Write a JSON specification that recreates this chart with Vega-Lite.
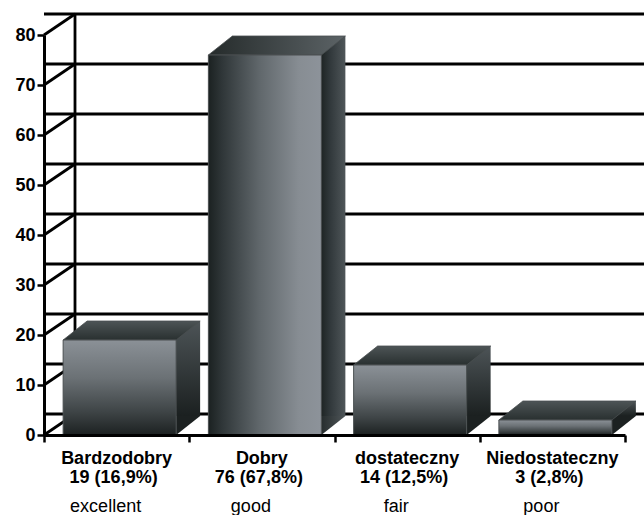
{
  "$schema": "https://vega.github.io/schema/vega-lite/v6.json",
  "width": 581,
  "height": 400,
  "autosize": {"type": "none"},
  "padding": {"left": 44, "top": 35, "right": 19, "bottom": 80},
  "background": "white",
  "config": {"view": {"stroke": null}, "font": "Liberation Sans"},
  "datasets": {
    "bars": [
      {"cat": "Bardzodobry", "count": 19, "label": "19 (16,9%)", "en": "excellent"},
      {"cat": "Dobry", "count": 76, "label": "76 (67,8%)", "en": "good"},
      {"cat": "dostateczny", "count": 14, "label": "14 (12,5%)", "en": "fair"},
      {"cat": "Niedostateczny", "count": 3, "label": "3 (2,8%)", "en": "poor"}
    ],
    "ticks": [{"t": 0}, {"t": 10}, {"t": 20}, {"t": 30}, {"t": 40}, {"t": 50}, {"t": 60}, {"t": 70}, {"t": 80}]
  },
  "layer": [
    {
      "data": {"name": "ticks"},
      "mark": {"type": "rule", "color": "black", "strokeWidth": 2.8, "xOffset": 31, "x2Offset": 31, "yOffset": -21, "y2Offset": -21},
      "encoding": {
        "y": {
          "field": "t", "type": "quantitative",
          "scale": {"domain": [0, 80], "nice": false},
          "axis": {
            "title": null, "values": [0, 10, 20, 30, 40, 50, 60, 70, 80], "grid": false,
            "domainColor": "black", "domainWidth": 3, "tickColor": "black", "tickWidth": 2.5, "tickSize": 7,
            "labelFont": "Liberation Sans", "labelFontWeight": "bold", "labelFontSize": 18, "labelColor": "black",
            "labelPadding": 2, "zindex": 1
          }
        }
      }
    },
    {
      "data": {"name": "ticks"},
      "transform": [{"filter": "datum.t === 0"}],
      "mark": {"type": "rule", "color": "black", "strokeWidth": 2.8, "xOffset": 31, "x2Offset": 31, "yOffset": -21, "y2Offset": -21},
      "encoding": {
        "x": {"value": 0},
        "y": {"datum": 80, "type": "quantitative"},
        "y2": {"datum": 0}
      }
    },
    {
      "data": {"name": "ticks"},
      "mark": {"type": "rule", "color": "black", "strokeWidth": 2.8, "x2Offset": 31, "y2Offset": -21},
      "encoding": {
        "x": {"value": 0},
        "x2": {"value": 0},
        "y": {"field": "t", "type": "quantitative"},
        "y2": {"field": "t"}
      }
    },
    {
      "data": {"name": "bars"},
      "transform": [{"filter": "datum.cat !== 'Dobry'"}],
      "mark": {"type": "bar", "width": 113, "xOffset": 27, "x2Offset": 27, "yOffset": -19, "y2Offset": -19,
        "fill": {"gradient": "linear", "x1": 0, "y1": 0, "x2": 0, "y2": 1,
          "stops": [{"offset": 0, "color": "#4d5457"}, {"offset": 1, "color": "#1b2020"}]}},
      "encoding": {
        "x": {
          "field": "cat", "type": "nominal",
          "scale": {"domain": ["Bardzodobry", "Dobry", "dostateczny", "Niedostateczny"], "paddingInner": 0, "paddingOuter": 0},
          "axis": {
            "title": null, "labels": false, "domainColor": "black", "domainWidth": 3,
            "tickColor": "black", "tickWidth": 2.5, "tickSize": 7, "tickBand": "extent", "zindex": 1
          }
        },
        "y": {"field": "count", "type": "quantitative"}
      }
    },
    {
      "data": {"name": "bars"},
      "transform": [{"filter": "datum.cat === 'Dobry'"}],
      "mark": {"type": "bar", "width": 113, "xOffset": 27, "x2Offset": 27, "yOffset": -19, "y2Offset": -19,
        "fill": {"gradient": "linear", "x1": 0, "y1": 0, "x2": 1, "y2": 0,
          "stops": [{"offset": 0, "color": "#1f2525"}, {"offset": 0.79, "color": "#1f2525"}, {"offset": 0.86, "color": "#30373a"}, {"offset": 1, "color": "#4f5659"}]}},
      "encoding": {
        "x": {"field": "cat", "type": "nominal"},
        "y": {"field": "count", "type": "quantitative"}
      }
    },
    {
      "data": {"name": "bars"},
      "transform": [{"filter": "datum.cat !== 'Dobry'"}],
      "mark": {"type": "point", "filled": true, "opacity": 1, "size": 4, "xOffset": 3, "strokeWidth": 0,
        "shape": "M56.5,0L56.5,-19L80.5,-19Z", "fill": "#1c2121"},
      "encoding": {
        "x": {"field": "cat", "type": "nominal"},
        "y": {"datum": 0, "type": "quantitative"}
      }
    },
    {
      "data": {"name": "bars"},
      "transform": [{"filter": "datum.cat === 'Dobry'"}],
      "mark": {"type": "point", "filled": true, "opacity": 1, "size": 4, "xOffset": 3, "strokeWidth": 0,
        "shape": "M56.5,0L56.5,-19L80.5,-19Z",
        "fill": {"gradient": "linear", "x1": 0, "y1": 0, "x2": 1, "y2": 0,
          "stops": [{"offset": 0, "color": "#272d2e"}, {"offset": 1, "color": "#4f5659"}]}},
      "encoding": {
        "x": {"field": "cat", "type": "nominal"},
        "y": {"datum": 0, "type": "quantitative"}
      }
    },
    {
      "data": {"name": "bars"},
      "transform": [{"filter": "datum.cat !== 'Dobry'"}],
      "mark": {"type": "point", "filled": true, "opacity": 1, "size": 4, "xOffset": 3, "stroke": "#4a4f50", "strokeWidth": 0.8,
        "shape": "M-56.5,0L56.5,0L80.5,-19L-32.5,-19Z",
        "fill": {"gradient": "linear", "x1": 0, "y1": 0, "x2": 0, "y2": 1,
          "stops": [{"offset": 0, "color": "#4d5456"}, {"offset": 1, "color": "#293030"}]}},
      "encoding": {
        "x": {"field": "cat", "type": "nominal"},
        "y": {"field": "count", "type": "quantitative"}
      }
    },
    {
      "data": {"name": "bars"},
      "transform": [{"filter": "datum.cat === 'Dobry'"}],
      "mark": {"type": "point", "filled": true, "opacity": 1, "size": 4, "xOffset": 3, "stroke": "#4a4f50", "strokeWidth": 0.8,
        "shape": "M-56.5,0L56.5,0L80.5,-19L-32.5,-19Z",
        "fill": {"gradient": "linear", "x1": 0, "y1": 0, "x2": 1, "y2": 0,
          "stops": [{"offset": 0, "color": "#252b2b"}, {"offset": 1, "color": "#5c6366"}]}},
      "encoding": {
        "x": {"field": "cat", "type": "nominal"},
        "y": {"field": "count", "type": "quantitative"}
      }
    },
    {
      "data": {"name": "bars"},
      "transform": [{"filter": "datum.cat !== 'Dobry'"}],
      "mark": {"type": "bar", "width": 113, "xOffset": 3, "x2Offset": 3, "stroke": "#4a4f50", "strokeWidth": 1,
        "fill": {"gradient": "linear", "x1": 0, "y1": 0, "x2": 0, "y2": 1,
          "stops": [{"offset": 0, "color": "#8b9197"}, {"offset": 0.4, "color": "#6b7175"}, {"offset": 0.75, "color": "#3f4547"}, {"offset": 1, "color": "#1c2121"}]}},
      "encoding": {
        "x": {"field": "cat", "type": "nominal"},
        "y": {"field": "count", "type": "quantitative"}
      }
    },
    {
      "data": {"name": "bars"},
      "transform": [{"filter": "datum.cat === 'Dobry'"}],
      "mark": {"type": "bar", "width": 113, "xOffset": 3, "x2Offset": 3, "stroke": "#4a4f50", "strokeWidth": 1,
        "fill": {"gradient": "linear", "x1": 0, "y1": 0, "x2": 1, "y2": 0,
          "stops": [{"offset": 0, "color": "#1b2121"}, {"offset": 0.12, "color": "#2f3638"}, {"offset": 0.45, "color": "#60676b"}, {"offset": 0.8, "color": "#878d93"}, {"offset": 1, "color": "#8d939a"}]}},
      "encoding": {
        "x": {"field": "cat", "type": "nominal"},
        "y": {"field": "count", "type": "quantitative"}
      }
    },
    {
      "data": {"name": "bars"},
      "mark": {"type": "text", "baseline": "alphabetic", "align": "center", "dy": 29, "font": "Liberation Sans", "fontWeight": "bold", "fontSize": 18, "color": "black"},
      "encoding": {
        "x": {"field": "cat", "type": "nominal"},
        "y": {"datum": 0, "type": "quantitative"},
        "text": {"field": "cat"}
      }
    },
    {
      "data": {"name": "bars"},
      "mark": {"type": "text", "baseline": "alphabetic", "align": "center", "dy": 48, "dx": -3, "font": "Liberation Sans", "fontWeight": "bold", "fontSize": 18, "color": "black"},
      "encoding": {
        "x": {"field": "cat", "type": "nominal"},
        "y": {"datum": 0, "type": "quantitative"},
        "text": {"field": "label"}
      }
    },
    {
      "data": {"name": "bars"},
      "mark": {"type": "text", "baseline": "alphabetic", "align": "center", "dy": 77, "dx": -11, "font": "Liberation Sans", "fontSize": 18, "color": "black"},
      "encoding": {
        "x": {"field": "cat", "type": "nominal"},
        "y": {"datum": 0, "type": "quantitative"},
        "text": {"field": "en"}
      }
    }
  ]
}
